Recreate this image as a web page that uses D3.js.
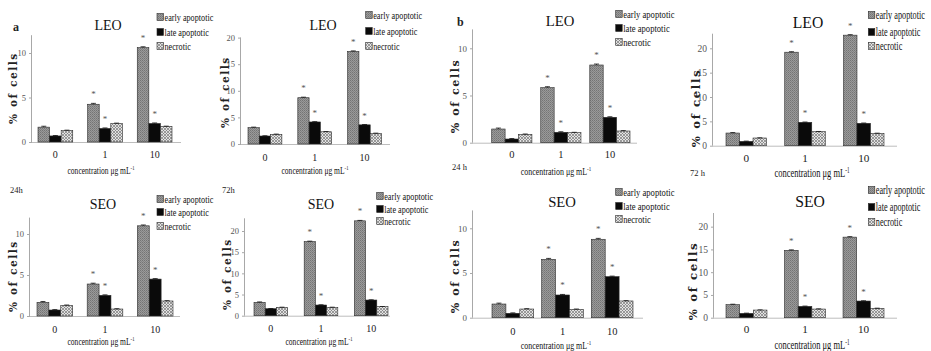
<!DOCTYPE html>
<html><head><meta charset="utf-8">
<script src="https://cdn.jsdelivr.net/npm/d3@7"></script>
<style>body{margin:0;background:#fff;} svg{display:block;} text{font-family:"Liberation Serif","DejaVu Serif",serif;}</style>
</head><body>
<svg id="c" width="931" height="351"></svg>
<script>
// ---- data ----
const categories = ["0", "1", "10"];
const seriesNames = ["early apoptotic", "late apoptotic", "necrotic"];
const ticksLow = [0, 5, 10];
const ticksHigh = [0, 5, 10, 15, 20];

// panel a
const leoA24_early = [1.67, 4.24, 10.6], leoA24_late = [0.68, 1.52, 2.08], leoA24_nec = [1.29, 2.08, 1.74];
const leoA72_early = [3.07, 8.7, 17.4],  leoA72_late = [1.5, 4.14, 3.6],   leoA72_nec = [1.82, 2.3, 2.0];
const seoA24_early = [1.67, 3.9, 11.0],  seoA24_late = [0.73, 2.52, 4.5],  seoA24_nec = [1.3, 0.85, 1.83];
const seoA72_early = [3.15, 17.5, 22.4], seoA72_late = [1.65, 2.52, 3.7],  seoA72_nec = [1.97, 1.97, 2.13];
// panel b
const leoB24_early = [1.45, 5.83, 8.23], leoB24_late = [0.39, 1.1, 2.69],  leoB24_nec = [0.88, 1.06, 1.24];
const leoB72_early = [2.6, 19.2, 22.7],  leoB72_late = [0.89, 4.8, 4.6],   leoB72_nec = [1.58, 2.88, 2.53];
const seoB24_early = [1.53, 6.53, 8.77], seoB24_late = [0.49, 2.54, 4.59], seoB24_nec = [0.97, 0.93, 1.87];
const seoB72_early = [2.86, 14.8, 17.7], seoB72_late = [0.95, 2.49, 3.66], seoB72_nec = [1.68, 1.9, 2.05];

// small error bars (early, late, necrotic)
const errEarly = [0.1, 0.1, 0.1];
const errLate = [0.05, 0.06, 0.06];
const errNec = [0.04, 0.04, 0.04];
// significance stars per series per category
const starsEarly = [0, 1, 1], starsLate = [0, 1, 1], starsNec = [0, 0, 0];

const panelData = {
  leoA24: [leoA24_early, leoA24_late, leoA24_nec],
  leoA72: [leoA72_early, leoA72_late, leoA72_nec],
  seoA24: [seoA24_early, seoA24_late, seoA24_nec],
  seoA72: [seoA72_early, seoA72_late, seoA72_nec],
  leoB24: [leoB24_early, leoB24_late, leoB24_nec],
  leoB72: [leoB72_early, leoB72_late, leoB72_nec],
  seoB24: [seoB24_early, seoB24_late, seoB24_nec],
  seoB72: [seoB72_early, seoB72_late, seoB72_nec]
};
const errs = [errEarly, errLate, errNec];
const stars = [starsEarly, starsLate, starsNec];

// ---- layout ----
const layout = [
  {key:"leoA24", title:"LEO", tx:108, ty:30, ax0:32,  ax1:181, zero:142,   top:35.2,  dmax:12, ticks:ticksLow,  g0:38,    g1:172,   pad:0.30, lx:157,   ly:[17,32,46],    ytx:13,  yty:88,  tickY:158, labX:101, labY:174, fs:1.0},
  {key:"leoA72", title:"LEO", tx:323, ty:30, ax0:241, ax1:390, zero:144,   top:37.6,  dmax:20, ticks:ticksHigh, g0:248,   g1:381.5, pad:0.32, lx:365.7, ly:[15,31,46],    ytx:225, yty:92,  tickY:161, labX:315, labY:174, fs:1.0},
  {key:"leoB24", title:"LEO", tx:560, ty:26, ax0:473, ax1:637, zero:142.7, top:29.4,  dmax:12, ticks:ticksLow,  g0:491.7, g1:630,   pad:0.18, lx:615.7, ly:[14,28,42],    ytx:455, yty:96,  tickY:158, labX:556, labY:175, fs:1.05},
  {key:"leoB72", title:"LEO", tx:808, ty:28, ax0:713, ax1:897, zero:145.7, top:33.7,  dmax:23, ticks:ticksHigh, g0:726,   g1:884,   pad:0.31, lx:868.3, ly:[15,32,46],    ytx:696, yty:108, tickY:162, labX:812, labY:177, fs:1.12},
  {key:"seoA24", title:"SEO", tx:103, ty:209, ax0:30,  ax1:180, zero:316,   top:217.6, dmax:12, ticks:ticksLow,  g0:37,    g1:173,   pad:0.29, lx:157,   ly:[199,212,226], ytx:13,  yty:276, tickY:333, labX:101, labY:345, fs:1.0},
  {key:"seoA72", title:"SEO", tx:321, ty:209, ax0:245, ax1:390, zero:315.7, top:218.3, dmax:23, ticks:ticksHigh, g0:254,   g1:388,   pad:0.33, lx:376.7, ly:[196,209,221], ytx:227, yty:274, tickY:332, labX:319, labY:345, fs:1.0},
  {key:"seoB24", title:"SEO", tx:562, ty:207, ax0:473, ax1:643, zero:317.7, top:210.4, dmax:12, ticks:ticksLow,  g0:492,   g1:633,   pad:0.16, lx:615.7, ly:[192,206,219], ytx:455, yty:276, tickY:335, labX:556, labY:349, fs:1.05},
  {key:"seoB72", title:"SEO", tx:810, ty:207, ax0:714, ax1:897, zero:317.7, top:213,   dmax:23, ticks:ticksHigh, g0:726,   g1:884,   pad:0.30, lx:868.3, ly:[190,207,222], ytx:693, yty:281, tickY:333, labX:812, labY:349, fs:1.12}
];

const svg = d3.select("#c");
const defs = svg.append("defs");
// early apoptotic: fine grey texture
const pE = defs.append("pattern").attr("id","pEarly").attr("patternUnits","userSpaceOnUse").attr("width",2).attr("height",2);
pE.append("rect").attr("width",2).attr("height",2).attr("fill","#9a9a9a");
pE.append("rect").attr("width",1).attr("height",1).attr("fill","#747474");
pE.append("rect").attr("x",1).attr("y",1).attr("width",1).attr("height",1).attr("fill","#828282");
// necrotic: crosshatch
const pN = defs.append("pattern").attr("id","pNec").attr("patternUnits","userSpaceOnUse").attr("width",3).attr("height",3);
pN.append("rect").attr("width",3).attr("height",3).attr("fill","#e2e2e2");
pN.append("path").attr("d","M0,0L3,3M3,0L0,3").attr("stroke","#7a7a7a").attr("stroke-width",0.7);

const fills = ["url(#pEarly)", "#0a0a0a", "url(#pNec)"];

layout.forEach(L => {
  const data = panelData[L.key];
  const fs = L.fs;
  const g = svg.append("g");
  const y = d3.scaleLinear().domain([0, L.dmax]).range([L.zero, L.top]);
  const x = d3.scaleBand().domain(categories).range([L.g0, L.g1]).paddingInner(L.pad).paddingOuter(0);
  const xs = d3.scaleBand().domain(d3.range(seriesNames.length)).range([0, x.bandwidth()]).padding(0);

  // y axis
  const yAxis = d3.axisLeft(y).tickValues(L.ticks).tickSize(3).tickPadding(3).tickFormat(d3.format("d"));
  const ya = g.append("g").attr("transform", `translate(${L.ax0},0)`).call(yAxis);
  ya.select(".domain").attr("stroke","#a8a8a8").attr("d", `M-0.5,${L.zero}V${L.top}`);
  ya.selectAll(".tick line").attr("stroke","#a8a8a8");
  ya.selectAll(".tick text").attr("fill","#555").style("font-size", (8.5*fs)+"px").style("font-family","Liberation Serif");

  // x axis line
  const xAxis = d3.axisBottom(x).tickSize(0).tickPadding(0);
  const xa = g.append("g").attr("transform", `translate(0,${L.zero})`).call(xAxis);
  xa.select(".domain").attr("stroke","#bdbdbd").attr("d", `M${L.ax0},0.5H${L.ax1}`);
  xa.selectAll(".tick text").attr("y", L.tickY - L.zero).attr("dy", 0).attr("fill","#222")
    .style("font-size", (10*fs)+"px").style("font-family","Liberation Serif");

  // bars
  categories.forEach((c, ci) => {
    data.forEach((vals, si) => {
      const v = vals[ci];
      const bx = x(c) + xs(si);
      const bw = xs.bandwidth();
      g.append("rect").attr("x", bx).attr("y", y(v)).attr("width", bw).attr("height", y(0) - y(v))
        .attr("fill", fills[si]).attr("stroke", "#2a2a2a").attr("stroke-width", 0.6);
      // error bar
      const e = errs[si][ci];
      const cx = bx + bw/2;
      g.append("path").attr("d", `M${cx},${y(v)}V${y(v+e)}M${cx-2.5},${y(v+e)}H${cx+2.5}`)
        .attr("stroke", "#111").attr("stroke-width", 0.8).attr("fill","none");
      if (stars[si][ci]) {
        g.append("text").attr("x", cx).attr("y", y(v + e) - 6).attr("text-anchor","middle")
          .attr("fill","#555").style("font-size","9px").text("*");
      }
    });
  });

  // title
  g.append("text").attr("x", L.tx).attr("y", L.ty).attr("text-anchor","middle").attr("fill","#111")
    .style("font-size", (14*fs)+"px").style("font-family","Liberation Serif").text(L.title);

  // legend
  const lsx = fs > 1.1 ? 0.7 : 0.78;
  seriesNames.forEach((s, si) => {
    const cy = L.ly[si];
    g.append("rect").attr("x", L.lx).attr("y", cy - 3.5).attr("width", 6.5).attr("height", 7)
      .attr("fill", fills[si]).attr("stroke","#2a2a2a").attr("stroke-width",0.6);
    g.append("text").attr("x", 0).attr("y", 0).attr("fill","#111")
      .style("font-size", (10.5*fs)+"px").style("font-family","Liberation Serif").text(s)
      .attr("transform", `translate(${L.lx + 7.5},${cy + 3.5}) scale(${lsx},1)`);
  });

  // y title
  g.append("text").attr("transform", `translate(${L.ytx + 4},${L.yty}) rotate(-90)`)
    .attr("text-anchor","middle").attr("fill","#222")
    .style("font-size", (10.5*fs)+"px").style("font-family","DejaVu Serif").style("font-weight","bold")
    .style("letter-spacing","1.6px").text("% of cells");

  // x title
  const xt = g.append("text").attr("transform", `translate(${L.labX},${L.labY}) scale(0.72,1)`)
    .attr("text-anchor","middle").attr("fill","#111")
    .style("font-size", (10.5*fs)+"px").style("font-family","Liberation Serif");
  xt.append("tspan").text("concentration μg mL");
  xt.append("tspan").attr("dy", -4).style("font-size", (6.5*fs)+"px").text("-1");
});

// panel letters and time labels
const extraTexts = [
  {t:"a", x:13, y:31, s:12, w:"bold"},
  {t:"b", x:457, y:26, s:12, w:"bold"},
  {t:"24 h", x:452, y:170, s:8.5, w:"normal"},
  {t:"72 h", x:690, y:176, s:8.5, w:"normal"},
  {t:"24h", x:10, y:193, s:8.5, w:"normal"},
  {t:"72h", x:222, y:193, s:8.5, w:"normal"}
];
svg.selectAll("text.extra").data(extraTexts).enter().append("text").attr("class","extra")
  .attr("x", d => d.x).attr("y", d => d.y).attr("fill","#222")
  .style("font-size", d => d.s + "px").style("font-weight", d => d.w).text(d => d.t);
</script>
</body></html>
